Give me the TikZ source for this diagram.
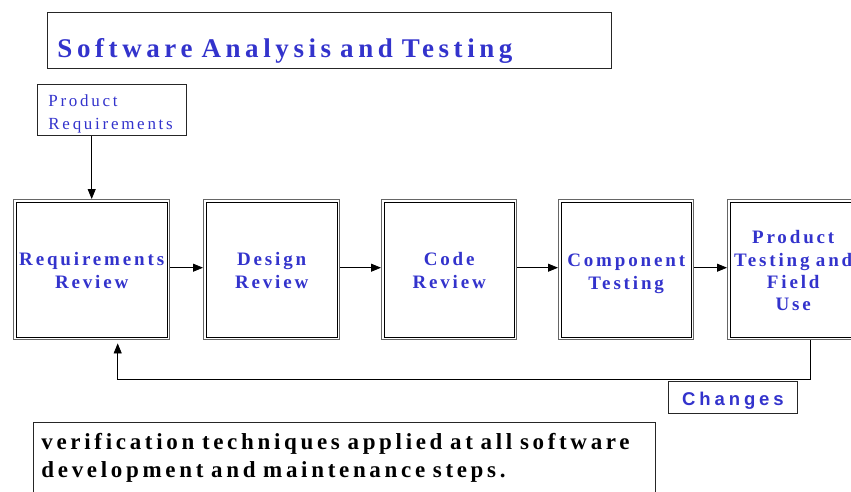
\documentclass[tikz,border=0pt]{standalone}
\usepackage{fontspec}
\setmainfont{Liberation Serif}
\newfontfamily\titlefont{Liberation Serif}[LetterSpace=17,WordSpace=1.4]
\newfontfamily\boxfont{Liberation Serif}[LetterSpace=15]
\newfontfamily\prfont{Liberation Serif}[LetterSpace=16]
\newfontfamily\chfont{Liberation Sans}[LetterSpace=21]
\newfontfamily\notefont{Liberation Serif}[LetterSpace=16]
\usetikzlibrary{arrows.meta}
\definecolor{tblue}{RGB}{51,51,204}
\begin{document}
\begin{tikzpicture}[x=1pt,y=-1pt,
  arr/.style={draw=black,line width=0.8pt,-{Triangle[length=10pt,width=8pt]}},
  plainbox/.style={draw=black!85,line width=0.9pt,inner sep=0pt,anchor=north west},
  stepbox/.style={draw=black!60,line width=1.4pt,inner sep=0pt,anchor=north west,
    minimum height=140pt,align=center,text=tblue,
    font=\boxfont\bfseries\fontsize{19}{23}\selectfont,
    path picture={\draw[black,line width=0.8pt]
      ([shift={(2.8pt,2.8pt)}]path picture bounding box.south west) rectangle
      ([shift={(-2.8pt,-2.8pt)}]path picture bounding box.north east);}},
]
\useasboundingbox (0,0) rectangle (851,491);
\clip (0,0) rectangle (851,491);

% title
\node[plainbox,minimum width=564pt,text height=45pt,text depth=11pt,
  inner xsep=10pt,text width=544pt,align=left,text=tblue,
  font=\titlefont\bfseries\fontsize{27}{32}\selectfont] (title) at (47,12)
  {Software Analysis and Testing};

% product requirements
\node[plainbox,minimum width=149pt,text height=22pt,text depth=29pt,
  inner xsep=11pt,text width=127pt,align=left,text=tblue,
  font=\prfont\fontsize{17}{23}\selectfont] (pr) at (37,84)
  {Product\\Requirements};

% process boxes
\node[stepbox,minimum width=156pt,text width=154pt,text height=66pt,text depth=74pt] (rr) at (13,199)
  {Requirements\\Review};
\node[stepbox,minimum width=136pt,text width=134pt,text height=66pt,text depth=74pt] (dr) at (203,199)
  {Design\\Review};
\node[stepbox,minimum width=135pt,text width=133pt,text height=66pt,text depth=74pt] (cr) at (381,199)
  {Code\\Review};
\node[stepbox,minimum width=135pt,text width=133pt,text height=67pt,text depth=73pt] (ct) at (558,199)
  {Component\\Testing};
\node[stepbox,minimum width=131pt,text width=129pt,text height=44pt,text depth=96pt,
  font=\boxfont\bfseries\fontsize{19}{22.3}\selectfont] (pt) at (727,199)
  {Product\\Testing and\\Field\\Use};

% changes
\node[plainbox,minimum width=129pt,text height=24pt,text depth=8pt,text=tblue,
  font=\chfont\bfseries\fontsize{18.5}{22}\selectfont] (ch) at (668,381) {Changes};

% note
\node[plainbox,minimum width=622pt,text height=27pt,text depth=60pt,
  inner xsep=8pt,text width=606pt,align=left,text=black,
  font=\notefont\bfseries\fontsize{23}{28}\selectfont] (note) at (33,422)
  {verification techniques applied at all software\\development and maintenance steps.};

% connectors
\draw[arr] (pr.south -| rr.north) -- (rr.north);
\draw[arr] ([yshift=2pt]rr.east) -- ([yshift=2pt]dr.west);
\draw[arr] ([yshift=2pt]dr.east) -- ([yshift=2pt]cr.west);
\draw[arr] ([yshift=2pt]cr.east) -- ([yshift=2pt]ct.west);
\draw[arr] ([yshift=2pt]ct.east) -- ([yshift=2pt]pt.west);
\draw[arr] ([xshift=17pt]pt.south) -- ++(0,39) -| ([xshift=26pt,yshift=-3pt]rr.south);
\end{tikzpicture}
\end{document}
